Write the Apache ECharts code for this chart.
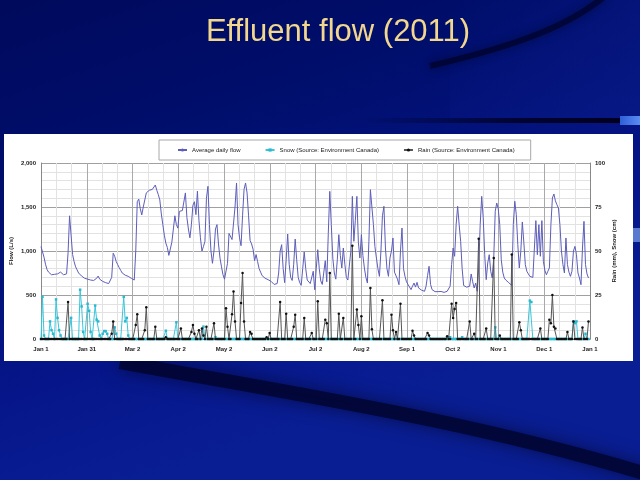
<!DOCTYPE html>
<html><head><meta charset="utf-8">
<script src="https://cdn.jsdelivr.net/npm/echarts@6/dist/echarts.min.js"></script>
<style>html,body{margin:0;padding:0;background:#000c5c;}#c{width:640px;height:480px;}</style>
</head><body><div id="c"></div>
<script>
// ---- data ----
const titleText = 'Effluent flow (2011)';
const tickLabels = ['Jan 1','Jan 31','Mar 2','Apr 2','May 2','Jun 2','Jul 2','Aug 2','Sep 1','Oct 2','Nov 1','Dec 1','Jan 1'];
const seriesNames = ['Average daily flow','Snow (Source: Environment Canada)','Rain (Source: Environment Canada)'];
const flowTicks = [0, 500, 1000, 1500, 2000];
const precipTicks = [0, 25, 50, 75, 100];
// average daily flow (L/s), one value per day from Jan 1
const flow = [
1050,1060,930,850,790,760,740,730,740,735,
750,740,730,760,745,730,720,740,980,1400,
1180,960,880,820,785,750,730,715,700,690,
685,680,675,670,668,665,668,690,715,680,
660,655,650,640,635,630,625,700,975,940,
880,845,810,780,750,735,725,718,712,700,
690,680,670,1000,1560,1590,1480,1410,1500,1580,
1660,1640,1690,1680,1700,1720,1750,1690,1640,1580,
1420,1300,1180,1090,1040,950,935,1100,1250,1400,
1300,1260,1450,1470,1460,1450,1660,1380,1250,1150,
1300,1520,1560,1413,1680,1350,1150,1000,1050,1110,
1600,1735,1300,1000,860,1000,1250,1300,1080,920,
820,730,680,690,860,1200,1190,1130,1120,1500,
1773,1300,1150,1060,1400,1700,1773,1660,1400,1120,
1080,1020,890,960,880,800,760,720,705,690,
680,674,665,655,640,620,625,630,750,1000,
1072,800,640,900,1193,850,700,665,850,1136,
900,700,640,610,800,989,800,670,650,630,
620,770,560,800,1015,800,660,620,608,890,
650,1200,1678,1300,920,750,680,900,1186,950,
807,1034,850,700,670,655,1000,1621,1110,1350,
1621,1100,920,1186,950,807,700,636,1110,1697,
1500,1300,1050,920,800,712,1000,1400,1508,1034,
800,712,920,1000,1148,760,740,680,617,1000,
1261,800,712,650,620,600,561,600,636,590,
644,580,561,555,550,542,600,720,826,620,
561,545,538,538,538,535,540,532,530,535,
542,523,600,845,1034,940,1299,1508,1300,1110,
800,608,590,589,585,600,739,650,580,636,
542,807,1300,1621,1378,958,674,864,958,770,
693,920,1451,1545,1480,1299,900,760,693,670,
655,640,625,608,1299,1565,1413,1072,807,997,
1330,1100,845,770,740,712,705,700,693,1345,
958,1299,940,1345,883,780,730,770,807,1299,
1602,1648,1570,1526,1489,1300,1000,845,750,1148,
845,760,712,770,1000,1053,958,750,693,617,
1034,1337,845,740,693
];
// rain (mm): days with rain (day index from Jan 1) and amounts; all other days 0
const rainDays = [18,47,48,63,64,69,70,76,83,93,100,101,102,105,107,108,110,115,123,124,127,128,129,133,134,135,139,140,150,152,159,163,168,169,175,180,184,189,190,192,198,201,207,210,211,213,219,220,227,233,234,236,239,247,248,257,258,270,273,274,275,276,285,288,291,296,301,305,313,318,319,332,338,339,340,341,342,350,354,360,364];
const rainVals = [21,3,10,8,14,5,18,7,1,6,4,8,3,5,6,2,7,9,17.5,7,14,27,10,20.5,37.5,10,4,3,1,3.4,21,14.4,7,13.8,11.9,3.4,21.4,11,9,37.5,14.4,12,53,16.7,8,12.9,29,5.5,22,13.8,5,4,20,4.7,2,3.4,2,1.5,20,12,17,20.5,10,3,57,6,46,2,48,9.5,5,6,11,9,25,7,6,4,10,6.6,10];
// snow (cm): days with snow and amounts; all other days 0
const snowDays = [1,2,6,7,8,10,11,12,13,20,26,27,28,31,32,33,36,37,38,39,41,42,43,44,49,50,55,56,57,58,83,90,108,116,272,280,302,325,326,354,355,356,362];
const snowVals = [24,2,10,5,3,22.5,12,5,2,12,28,18.5,4,20,16,4,19,11,10,2,3,4.5,4.5,3,6.6,3,24,10,12,2,4.7,9.5,7,1,1,1,6.6,21.8,21,10,9,10,3];
const DAYS = 365;

// ---- build series tables ----
const toX = d => d * (tickLabels.length - 1) / DAYS;
const flowData = flow.map((v, d) => [toX(d), v]);
function dailyTable(days, vals) {
  const a = new Array(DAYS).fill(0);
  days.forEach((d, i) => { a[d] = vals[i]; });
  return a.map((v, d) => [toX(d), v]);
}
const rainData = dailyTable(rainDays, rainVals);
const snowData = dailyTable(snowDays, snowVals);

const chart = echarts.init(document.getElementById('c'), null, {renderer: 'canvas'});
const F = 'Liberation Sans, Arial, sans-serif';
const lg = (x1,y1,x2,y2,stops) => new echarts.graphic.LinearGradient(x1,y1,x2,y2,stops.map(s=>({offset:s[0],color:s[1]})));

chart.setOption({
  animation: false,
  backgroundColor: '#000c5c',
  graphic: [
    {type:'rect', z:-10, silent:true, shape:{x:0,y:0,width:640,height:480},
     style:{fill: lg(0,0,0.25,1,[[0,'#000a5c'],[0.35,'#000e6c'],[0.75,'#06168a'],[1,'#0a1e94']])}},
    {type:'rect', z:-9, silent:true, shape:{x:450,y:0,width:190,height:120},
     style:{fill: lg(0,0,1,1,[[0,'rgba(10,30,140,0)'],[1,'rgba(10,30,140,0.45)']])}},
    {type:'bezierCurve', z:-8, silent:true,
     shape:{x1:605,y1:-4,cpx1:570,cpy1:25,cpx2:520,cpy2:45,x2:430,y2:66},
     style:{stroke:'rgba(0,0,25,0.55)', lineWidth:6, fill:null, shadowBlur:10, shadowColor:'rgba(0,0,20,0.8)'}},
    {type:'rect', z:-8, silent:true, shape:{x:360,y:118,width:260,height:5},
     style:{fill: lg(0,0,1,0,[[0,'rgba(0,0,30,0)'],[0.6,'rgba(0,0,30,0.8)'],[1,'rgba(0,0,30,1)']])}},
    {type:'rect', z:-8, silent:true, shape:{x:620,y:116,width:20,height:9},
     style:{fill: lg(0,0,1,0,[[0,'#2f5fd8'],[1,'#5b8cf2']])}},
    {type:'bezierCurve', z:-8, silent:true,
     shape:{x1:120,y1:362,cpx1:300,cpy1:395,cpx2:470,cpy2:420,x2:660,y2:478},
     style:{stroke:'rgba(0,0,30,0.65)', lineWidth:14, fill:null, shadowBlur:18, shadowColor:'rgba(0,0,25,0.9)'}},
    {type:'rect', z:-8, silent:true, shape:{x:633,y:228,width:7,height:14},
     style:{fill:'#5a7ad0'}},
    {type:'rect', z:-7, silent:true, shape:{x:4,y:134,width:629,height:227},
     style:{fill:'#ffffff'}},
    {type:'text', z:5, silent:true, x:338, y:32,
     style:{text:titleText, fill:'#f2d78e', font:'31px '+F, textAlign:'center', textVerticalAlign:'middle'}}
  ],
  legend: {
    data: seriesNames, left: 159, top: 140,
    padding: [7, 16, 7, 18], itemGap: 24, itemWidth: 9, itemHeight: 4,
    borderColor: '#a8a8a8', borderWidth: 1, backgroundColor: '#fff',
    textStyle: {fontSize: 6, color: '#222', fontFamily: F}
  },
  grid: {left: 40, right: 50, top: 163, bottom: 141, containLabel: false},
  xAxis: {
    type: 'value', min: 0, max: tickLabels.length - 1, interval: 1,
    axisLine: {show: true, lineStyle: {color: '#777', width: 1}},
    axisTick: {show: false},
    axisLabel: {fontSize: 6, color: '#222', fontFamily: F, fontWeight: 'bold', margin: 7,
      formatter: v => tickLabels[Math.round(v)] || ''},
    splitLine: {show: true, lineStyle: {color: '#a9a9a9', width: 1}},
    minorTick: {show: false, splitNumber: 3},
    minorSplitLine: {show: true, lineStyle: {color: '#e2e2e2', width: 1}}
  },
  yAxis: [
    {type: 'value', min: flowTicks[0], max: flowTicks[flowTicks.length-1], interval: flowTicks[1]-flowTicks[0],
     name: 'Flow (L/s)', nameLocation: 'middle', nameGap: 27, nameMoveOverlap: false,
     nameTextStyle: {fontSize: 6, color: '#222', fontFamily: F, fontWeight: 'bold'},
     axisLine: {show: true, lineStyle: {color: '#888'}}, axisTick: {show: false},
     axisLabel: {fontSize: 6, color: '#222', fontFamily: F, fontWeight: 'bold', margin: 5,
       formatter: v => v.toLocaleString('en-US')},
     splitLine: {show: true, lineStyle: {color: '#a0a0a0', width: 1}},
     minorTick: {show: false, splitNumber: 5},
     minorSplitLine: {show: true, lineStyle: {color: '#e2e2e2', width: 1}}},
    {type: 'value', min: precipTicks[0], max: precipTicks[precipTicks.length-1], interval: precipTicks[1]-precipTicks[0],
     name: 'Rain (mm), Snow (cm)', nameLocation: 'middle', nameGap: 21, nameRotate: 90, nameMoveOverlap: false,
     nameTextStyle: {fontSize: 6, color: '#222', fontFamily: F, fontWeight: 'bold'},
     axisLine: {show: true, lineStyle: {color: '#888'}}, axisTick: {show: false},
     axisLabel: {fontSize: 6, color: '#222', fontFamily: F, fontWeight: 'bold', margin: 5},
     splitLine: {show: false}}
  ],
  series: [
    {name: seriesNames[0], type: 'line', yAxisIndex: 0, data: flowData, symbol: 'none',
     lineStyle: {color: '#5d5dbb', width: 1}, itemStyle: {color: '#5d5dbb'}, z: 3},
    {name: seriesNames[1], type: 'line', yAxisIndex: 1, data: snowData, symbol: 'rect', symbolSize: 2.5,
     showAllSymbol: true, lineStyle: {color: '#39c6da', width: 1}, itemStyle: {color: '#2cb8cf'}, z: 4},
    {name: seriesNames[2], type: 'line', yAxisIndex: 1, data: rainData, symbol: 'circle', symbolSize: 2.5,
     showAllSymbol: true, lineStyle: {color: '#555', width: 1}, itemStyle: {color: '#111'}, z: 5}
  ]
});
</script></body></html>
